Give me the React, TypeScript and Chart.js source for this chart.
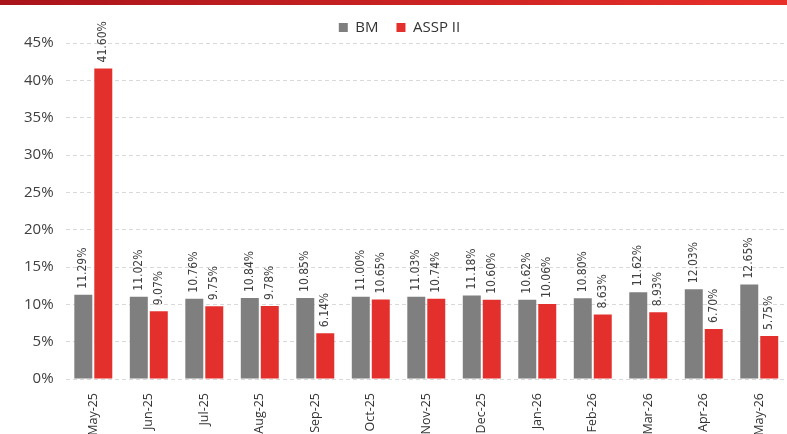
import React, { useEffect, useRef } from "react";
import { Chart, registerables } from "chart.js";

Chart.register(...registerables);

const categories = ["May-25", "Jun-25", "Jul-25", "Aug-25", "Sep-25", "Oct-25", "Nov-25", "Dec-25", "Jan-26", "Feb-26", "Mar-26", "Apr-26", "May-26"];
const bmValues = [11.29, 11.02, 10.76, 10.84, 10.85, 11.0, 11.03, 11.18, 10.62, 10.8, 11.62, 12.03, 12.65];
const asspValues = [41.6, 9.07, 9.75, 9.78, 6.14, 10.65, 10.74, 10.6, 10.06, 8.63, 8.93, 6.7, 5.75];
const seriesNames = ["BM", "ASSP II"];

const labelPlugin = {
  id: "barLabels",
  afterDatasetsDraw(chart: any) {
    const ctx = chart.ctx;
    ctx.save();
    ctx.font = "12px 'Liberation Sans Narrow', 'DejaVu Sans Condensed', Arial, sans-serif";
    ctx.fillStyle = "#404040";
    ctx.textAlign = "left";
    ctx.textBaseline = "middle";
    chart.data.datasets.forEach((ds: any, i: number) => {
      const meta = chart.getDatasetMeta(i);
      meta.data.forEach((bar: any, j: number) => {
        const v = ds.data[j];
        ctx.save();
        ctx.translate(bar.x, bar.y - 6);
        ctx.rotate(-Math.PI / 2);
        ctx.fillText(v.toFixed(2) + "%", 0, 0);
        ctx.restore();
      });
    });
    ctx.restore();
  },
};

export default function App() {
  const ref = useRef<HTMLCanvasElement>(null);
  useEffect(() => {
    document.body.style.margin = "0";
    const chart = new Chart(ref.current!, {
      type: "bar",
      data: {
        labels: categories,
        datasets: [
          { label: seriesNames[0], data: bmValues, backgroundColor: "#7f7f7f", categoryPercentage: 0.72, barPercentage: 0.9 },
          { label: seriesNames[1], data: asspValues, backgroundColor: "#e3302c", categoryPercentage: 0.72, barPercentage: 0.9 },
        ],
      },
      options: {
        animation: false,
        responsive: false,
        maintainAspectRatio: false,
        layout: { padding: { left: 12, right: 0, top: 2, bottom: 0 } },
        plugins: {
          legend: {
            position: "top",
            labels: {
              boxWidth: 9,
              boxHeight: 9,
              color: "#333",
              font: { size: 15, family: "'Open Sans', 'Noto Sans', sans-serif" },
              padding: 18,
            },
          },
          tooltip: { enabled: false },
        },
        scales: {
          y: {
            min: 0,
            max: 45,
            ticks: {
              stepSize: 5,
              callback: (v: any) => v + "%",
              color: "#404040",
              font: { size: 15, family: "'Open Sans', 'Noto Sans', sans-serif" },
              padding: 12,
            },
            grid: { color: "#d9d9d9", drawTicks: false },
            border: { display: false, dash: [4, 3] },
          },
          x: {
            afterFit: (scale: any) => {
              scale.height = 55;
            },
            ticks: {
              minRotation: 90,
              maxRotation: 90,
              color: "#333",
              font: { size: 12.5, family: "'Open Sans', 'Noto Sans', sans-serif" },
              padding: 6,
            },
            grid: { display: false },
            border: { display: false },
          },
        },
      },
      plugins: [
        labelPlugin,
        {
          id: "legendSpace",
          beforeInit(chart: any) {
            const orig = chart.legend && chart.legend.fit;
            if (chart.legend && orig) {
              chart.legend.fit = function () {
                orig.call(this);
                this.height = 41;
              };
            }
          },
        },
      ],
    });
    return () => chart.destroy();
  }, []);
  return (
    <div style={{ position: "relative", width: 787, height: 434, background: "#fff" }}>
      <canvas ref={ref} width={787} height={434} style={{ display: "block" }} />
      <div style={{ position: "absolute", left: 0, top: 0, width: 787, height: 5, background: "linear-gradient(to right, #a8141a, #e8302a)" }} />
    </div>
  );
}
